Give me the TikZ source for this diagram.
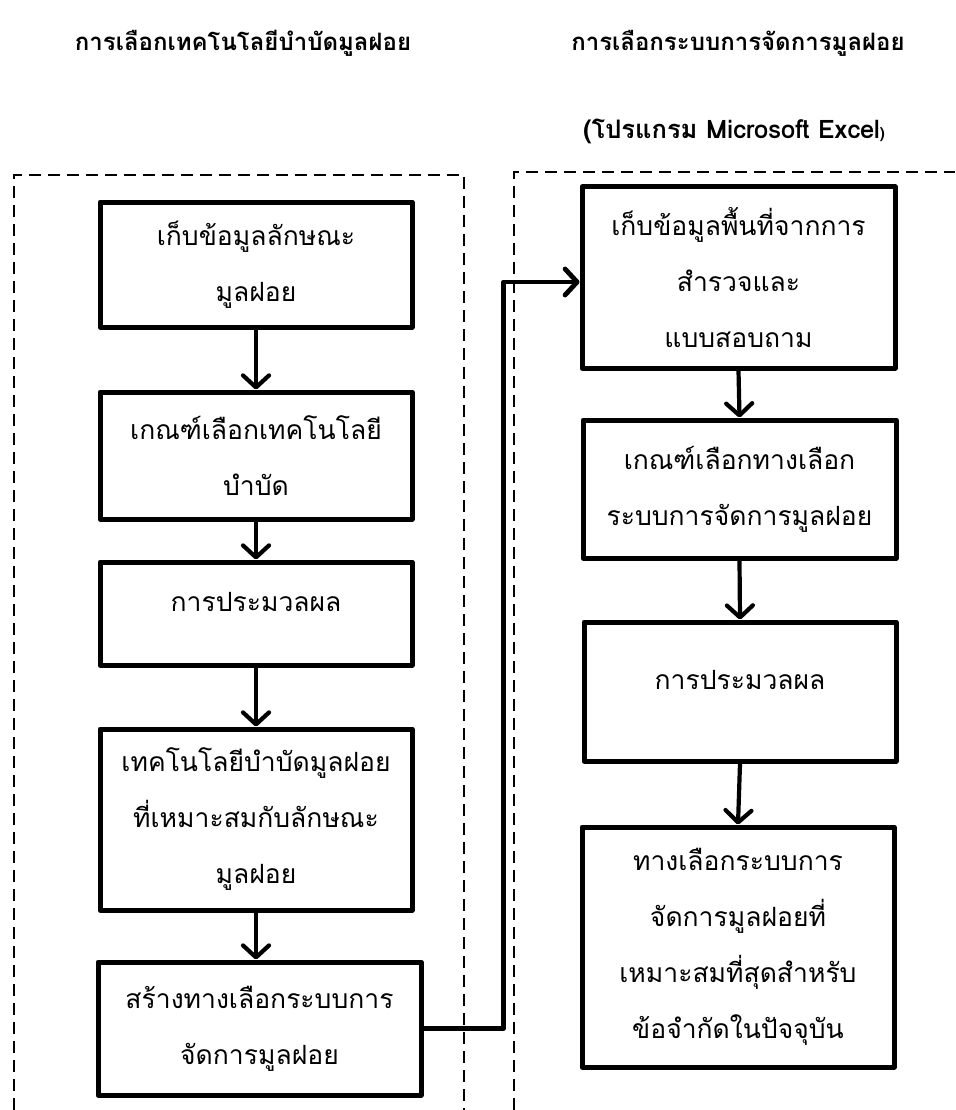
\documentclass[tikz,border=0pt]{standalone}
\usepackage{fontspec}
\newfontfamily\thaifont[Script=Thai]{Loma}
\usetikzlibrary{arrows.meta}
\begin{document}
\begin{tikzpicture}[x=1pt,y=-1pt,
  stepbox/.style={draw, line width=5pt, line join=round, align=center,
    inner sep=0pt, font=\thaifont\fontsize{26.5}{56}\selectfont},
  flow/.style={line width=4.2pt, -{Straight Barb[length=12pt,width=26pt,round]}},
  link/.style={line width=4.8pt, line join=round,
    -{Straight Barb[length=12pt,width=26pt,round]}},
  frame/.style={line width=2.2pt, dash pattern=on 12pt off 7pt},
  heading/.style={font=\thaifont\bfseries\fontsize{24}{28}\selectfont, anchor=base}
]
\useasboundingbox (0,0) rectangle (955,1110);

% headings
\node[heading] (th1) at (243,51) {การเลือกเทคโนโลยีบำบัดมูลฝอย};
\node[heading] (th2) at (738,51) {การเลือกระบบการจัดการมูลฝอย};
\node[heading, font=\thaifont\bfseries\fontsize{25.5}{28}\selectfont] (th3) at (734,139)
  {(โปรแกรม Microsoft Excel{\fontsize{15}{15}\selectfont)}};

% dashed group frames (open at the bottom)
\draw[frame] (14,1110) -- (14,175) -- (464,175) -- (464,1110);
\draw[frame] (514,1110) -- (514,172) -- (955,172);

% left column: treatment technology selection
\node[stepbox, minimum width=312pt, minimum height=125pt] (L1) at (256,264.5)
  {เก็บข้อมูลลักษณะ\\มูลฝอย};
\node[stepbox, minimum width=312pt, minimum height=127pt] (L2) at (256,455.5)
  {เกณฑ์เลือกเทคโนโลยี\\บำบัด};
\node[stepbox, minimum width=312pt, minimum height=103pt, text depth=24pt] (L3) at (256,613.5)
  {การประมวลผล};
\node[stepbox, minimum width=312pt, minimum height=181pt] (L4) at (256,819.5)
  {เทคโนโลยีบำบัดมูลฝอย\\ที่เหมาะสมกับลักษณะ\\มูลฝอย};
\node[stepbox, minimum width=323pt, minimum height=133pt] (L5) at (259.5,1028.5)
  {สร้างทางเลือกระบบการ\\จัดการมูลฝอย};

% right column: management system selection
\node[stepbox, minimum width=313pt, minimum height=181pt] (R1) at (738.5,277.5)
  {เก็บข้อมูลพื้นที่จากการ\\สำรวจและ\\แบบสอบถาม};
\node[stepbox, minimum width=313pt, minimum height=138pt] (R2) at (739.5,489)
  {เกณฑ์เลือกทางเลือก\\ระบบการจัดการมูลฝอย};
\node[stepbox, minimum width=312pt, minimum height=139pt, text depth=24pt] (R3) at (740,691.5)
  {การประมวลผล};
\node[stepbox, minimum width=312pt, minimum height=240pt] (R4) at (738,947)
  {ทางเลือกระบบการ\\จัดการมูลฝอยที่\\เหมาะสมที่สุดสำหรับ\\ข้อจำกัดในปัจจุบัน};

% flow arrows
\draw[flow] (L1.south) -- (L2.north);
\draw[flow] (L2.south) -- (L3.north);
\draw[flow] (L3.south) -- (L4.north);
\draw[flow] (L4.south) -- (L4.south |- L5.north);
\draw[flow] (R1.south) -- (R2.north);
\draw[flow] (R2.south) -- (R3.north);
\draw[flow] (R3.south) -- (R4.north);

% hand-over from the left column to the right column
\draw[link] (L5.east) -- ++(80,0) |- ([yshift=-4.5pt]R1.west);
\end{tikzpicture}
\end{document}
